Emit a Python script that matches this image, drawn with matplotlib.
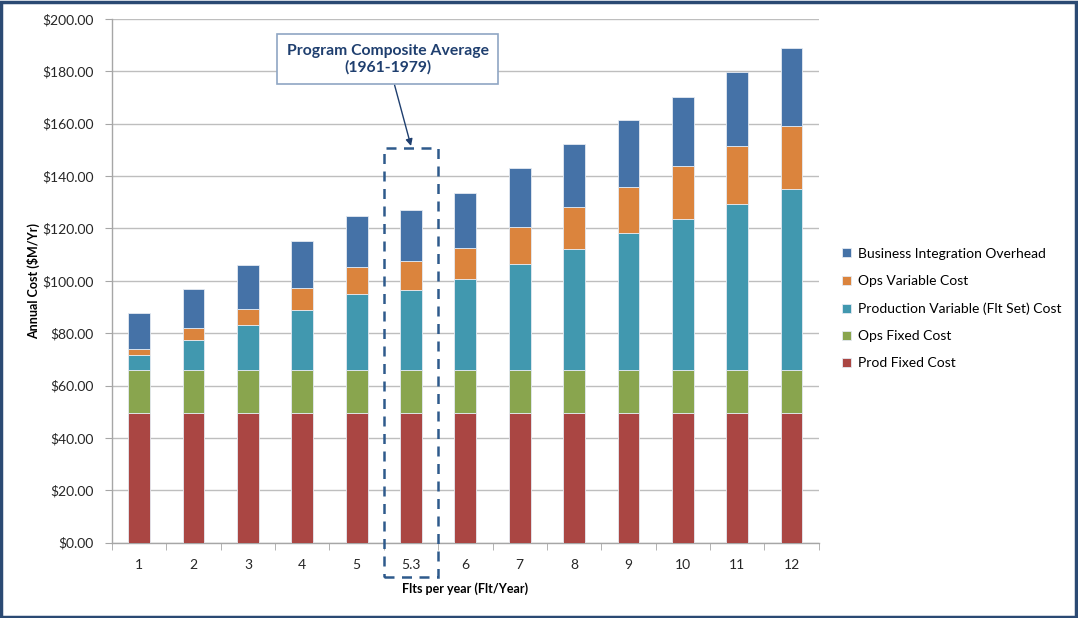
import numpy as np
import matplotlib.pyplot as plt
from matplotlib.patches import Rectangle
from matplotlib.ticker import FuncFormatter

plt.rcParams['font.family'] = ['Lato', 'DejaVu Sans']

# Flights per year categories (5.3 is the program composite average)
flts = ['1', '2', '3', '4', '5', '5.3', '6', '7', '8', '9', '10', '11', '12']

# Annual cost components, $M/Yr
prod_fixed = [49.4] * 13
ops_fixed = [16.6] * 13
prod_var = [5.6, 11.5, 17.1, 22.8, 29.0, 30.4, 34.8, 40.6, 46.2, 52.1, 57.7, 63.5, 69.2]
ops_var = [2.4, 4.4, 6.2, 8.4, 10.1, 11.0, 11.8, 14.0, 16.1, 17.9, 20.2, 22.0, 24.1]
bus_int = [13.7, 14.9, 16.8, 18.1, 19.5, 19.6, 21.1, 22.5, 23.9, 25.5, 26.4, 28.1, 29.5]

series = [
    ('Prod Fixed Cost', prod_fixed, '#AA4643'),
    ('Ops Fixed Cost', ops_fixed, '#89A54E'),
    ('Production Variable (Flt Set) Cost', prod_var, '#4198AF'),
    ('Ops Variable Cost', ops_var, '#DB843D'),
    ('Business Integration Overhead', bus_int, '#4572A7'),
]

fig = plt.figure(figsize=(10.78, 6.18), dpi=100)
ax = fig.add_axes([0.1039, 0.1218, 0.6556, 0.8475])

x = np.arange(len(flts))
bottom = np.zeros(len(flts))
bars = []
for name, vals, col in series:
    b = ax.bar(x, vals, 0.40, bottom=bottom, color=col, edgecolor='#E4EAF2',
               linewidth=0.6, label=name, zorder=3)
    bars.append(b)
    bottom += np.array(vals)

ax.set_xlim(-0.5, len(flts) - 0.5)
ax.set_ylim(0, 200)
ax.set_yticks(np.arange(0, 201, 20))
ax.yaxis.set_major_formatter(FuncFormatter(lambda v, p: '${:.2f}'.format(v)))
ax.yaxis.grid(True, color='#BEBEBE', linewidth=1.0, zorder=0)
ax.set_axisbelow(True)

ax.set_xticks(x)
ax.set_xticklabels(flts)
ax.set_xticks(np.arange(-0.5, len(flts), 1), minor=True)
ax.tick_params(axis='x', which='major', length=0, pad=12, labelsize=10, colors='#262626')
ax.tick_params(axis='x', which='minor', length=5, color='#A6A6A6', direction='out')
ax.tick_params(axis='y', length=5, color='#A6A6A6', labelsize=10, labelcolor='#262626', pad=8)

for s in ['top', 'right']:
    ax.spines[s].set_visible(False)
for s in ['left', 'bottom']:
    ax.spines[s].set_color('#A6A6A6')
    ax.spines[s].set_linewidth(1.0)

ax.set_ylabel('Annual Cost ($M/Yr)', fontsize=9, fontweight='bold', labelpad=2)
ax.set_xlabel('Flts per year (Flt/Year)', fontsize=9, fontweight='bold', labelpad=8)

# dashed outline around the composite average column
avg_idx = flts.index('5.3')
ax.add_patch(Rectangle((avg_idx - 0.5, -13.1), 1.0, 150.8 + 13.1, fill=False,
                       edgecolor='#2E5A8C', linestyle=(0, (4, 3)), linewidth=1.8,
                       clip_on=False, zorder=5))

ax.annotate('Program Composite Average\n(1961-1979)', xy=(avg_idx, 151.5),
            xytext=(avg_idx - 0.43, 184.6), ha='center', va='center',
            fontsize=11.3, fontweight='bold', color='#1F3F6F', linespacing=1.25,
            bbox=dict(boxstyle='square,pad=0.6', fc='white', ec='#8FA6C4', lw=1.2),
            arrowprops=dict(arrowstyle='-|>', color='#1F3F6F', lw=1.0,
                            mutation_scale=10, shrinkA=0, shrinkB=0),
            zorder=6)

handles = bars[::-1]
labels = [s[0] for s in series][::-1]
fig.legend(handles, labels, loc='upper left', bbox_to_anchor=(0.776, 0.608),
           frameon=False, fontsize=10, handlelength=0.62, handleheight=0.62,
           handletextpad=0.5, labelspacing=1.1, borderaxespad=0)

# outer frame of the chart area
fig.patches.append(Rectangle((0.001, 0.002), 0.997, 0.995, transform=fig.transFigure,
                             fill=False, edgecolor='#2B4A73', linewidth=2.5))

fig.savefig('out.png', dpi=100)
